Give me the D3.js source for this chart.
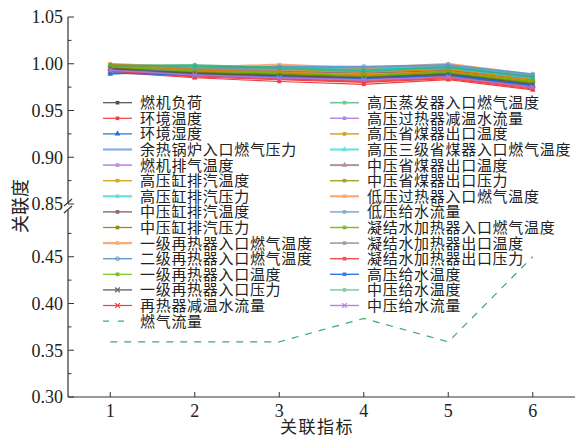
<!DOCTYPE html>
<html>
<head>
<meta charset="utf-8">
<script src="https://cdn.jsdelivr.net/npm/d3@7"></script>
<style>
  body { margin: 0; background: #fff; }
  svg { display: block; }
  text { font-family: "Liberation Serif", "Noto Sans CJK SC", serif; fill: #222; }
  .zh { font-family: "Noto Sans CJK SC", "Liberation Serif", serif; }
</style>
</head>
<body>
<svg id="chart"></svg>
<script>
//////////////////////////////////////////////////////////////
// data
var indicators = [1, 2, 3, 4, 5, 6];

var seriesNames = [
    "燃机负荷", "环境温度", "环境湿度", "余热锅炉入口燃气压力", "燃机排气温度",
    "高压缸排汽温度", "高压缸排汽压力", "中压缸排汽温度", "中压缸排汽压力",
    "一级再热器入口燃气温度", "二级再热器入口燃气温度", "一级再热器入口温度",
    "一级再热器入口压力", "再热器减温水流量", "燃气流量",
    "高压蒸发器入口燃气温度", "高压过热器减温水流量", "高压省煤器出口温度",
    "高压三级省煤器入口燃气温度", "中压省煤器出口温度", "中压省煤器出口压力",
    "低压过热器入口燃气温度", "低压给水流量", "凝结水加热器入口燃气温度",
    "凝结水加热器出口温度", "凝结水加热器出口压力", "高压给水温度",
    "中压给水温度", "中压给水流量"
];

var seriesValues = [
    [0.996, 0.991, 0.989, 0.986, 0.990, 0.979],
    [0.991, 0.985, 0.981, 0.978, 0.983, 0.972],
    [0.989, 0.993, 0.992, 0.990, 0.993, 0.983],
    [0.995, 0.994, 0.993, 0.991, 0.995, 0.985],
    [0.993, 0.988, 0.985, 0.983, 0.987, 0.976],
    [0.998, 0.993, 0.991, 0.988, 0.992, 0.981],
    [0.997, 0.997, 0.996, 0.994, 0.997, 0.987],
    [0.994, 0.989, 0.987, 0.984, 0.988, 0.977],
    [0.996, 0.992, 0.990, 0.987, 0.991, 0.980],
    [1.000, 0.996, 0.999, 0.995, 1.000, 0.988],
    [0.990, 0.995, 0.997, 0.997, 0.999, 0.989],
    [0.997, 0.990, 0.988, 0.985, 0.989, 0.978],
    [0.995, 0.990, 0.987, 0.985, 0.989, 0.978],
    [0.992, 0.986, 0.983, 0.980, 0.984, 0.973],
    [0.359, 0.359, 0.359, 0.384, 0.359, 0.450],
    [0.998, 0.999, 0.996, 0.993, 0.997, 0.986],
    [0.993, 0.987, 0.984, 0.982, 0.986, 0.975],
    [0.999, 0.995, 0.994, 0.991, 0.994, 0.983],
    [0.998, 0.997, 0.995, 0.993, 0.996, 0.985],
    [0.994, 0.989, 0.986, 0.984, 0.987, 0.976],
    [0.996, 0.991, 0.989, 0.986, 0.990, 0.979],
    [0.999, 0.994, 0.992, 0.989, 0.993, 0.982],
    [0.991, 0.994, 0.996, 0.996, 0.998, 0.988],
    [0.997, 0.992, 0.990, 0.987, 0.991, 0.981],
    [0.995, 0.990, 0.988, 0.985, 0.989, 0.978],
    [0.992, 0.987, 0.984, 0.981, 0.985, 0.974],
    [0.990, 0.988, 0.986, 0.984, 0.988, 0.977],
    [0.998, 0.998, 0.995, 0.992, 0.996, 0.986],
    [0.993, 0.988, 0.985, 0.983, 0.986, 0.975]
];

var topTicks = [0.85, 0.90, 0.95, 1.00, 1.05];
var bottomTicks = [0.30, 0.35, 0.40, 0.45];
//////////////////////////////////////////////////////////////

// style per series: colour, marker, width, opacity
var seriesStyles = [
    {c:"#515151", m:"square", w:1.2, o:1},
    {c:"#F14040", m:"square", w:1.2, o:1},
    {c:"#1A6FDF", m:"triangle", w:1.2, o:1},
    {c:"#6a9be0", m:"none", w:2.2, o:0.8},
    {c:"#B177DE", m:"square", w:1.6, o:0.85},
    {c:"#CC9900", m:"square", w:1.4, o:0.85},
    {c:"#00CBCC", m:"square", w:2.2, o:0.6},
    {c:"#7D4E4E", m:"square", w:1.4, o:0.85},
    {c:"#8E8E00", m:"square", w:1.2, o:1},
    {c:"#FB6501", m:"square", w:2.2, o:0.55},
    {c:"#6699CC", m:"circle", w:1.4, o:1},
    {c:"#6FB802", m:"square", w:1.2, o:0.9},
    {c:"#515151", m:"cross", w:1.4, o:0.85},
    {c:"#F14040", m:"cross", w:1.2, o:1},
    {c:"#37AD6B", m:"none", w:1.2, o:1, dash:"7,7"},
    {c:"#37AD6B", m:"square", w:1.6, o:0.7},
    {c:"#B177DE", m:"square", w:1.4, o:0.9},
    {c:"#CC9900", m:"square", w:1.4, o:0.9},
    {c:"#00CBCC", m:"triangle", w:2.0, o:0.6},
    {c:"#7D4E4E", m:"triangle", w:2.0, o:0.6},
    {c:"#8E8E00", m:"square", w:1.4, o:0.8},
    {c:"#FB6501", m:"square", w:2.2, o:0.55},
    {c:"#6699CC", m:"square", w:1.6, o:0.8},
    {c:"#6FB802", m:"square", w:1.4, o:0.9},
    {c:"#515151", m:"square", w:1.6, o:0.55},
    {c:"#F14040", m:"square", w:1.4, o:0.9},
    {c:"#1A6FDF", m:"square", w:1.4, o:0.9},
    {c:"#37AD6B", m:"square", w:1.6, o:0.6},
    {c:"#B177DE", m:"cross", w:1.4, o:0.9}
];

var screen = {width:575, height:440};

var svg = d3.select("#chart")
    .attr("width", screen.width)
    .attr("height", screen.height);

// scales: x shared, y broken into two pieces
var xScale = d3.scaleLinear().domain([0.5, 6.5]).range([68, 575]);
var yTop = d3.scaleLinear().domain([0.85, 1.05]).range([204, 17]);
var yBottom = d3.scaleLinear().domain([0.30, 0.50]).range([397, 210]);

var yFor = function(i) { return i === 14 ? yBottom : yTop; };

//////////////////////////////////////////////////////////////
// axes
var axes = svg.append("g").attr("stroke", "#333");

var drawYAxis = function(scale, ticks, minors, y0, y1)
{
    axes.append("line")
        .attr("x1", 68).attr("x2", 68)
        .attr("y1", y0).attr("y2", y1)
        .attr("stroke-width", 1.2);
    axes.selectAll(null).data(ticks).enter().append("line")
        .attr("x1", 68).attr("x2", 74)
        .attr("y1", function(d){ return scale(d); })
        .attr("y2", function(d){ return scale(d); });
    axes.selectAll(null).data(minors).enter().append("line")
        .attr("x1", 68).attr("x2", 71.5)
        .attr("y1", function(d){ return scale(d); })
        .attr("y2", function(d){ return scale(d); });
    svg.selectAll(null).data(ticks).enter().append("text")
        .attr("x", 63)
        .attr("y", function(d){ return scale(d); })
        .attr("dy", "0.35em")
        .attr("text-anchor", "end")
        .attr("font-size", 18)
        .text(function(d){ return d3.format(".2f")(d); });
};

drawYAxis(yTop, topTicks, [0.875, 0.925, 0.975, 1.025], 204, 17);
drawYAxis(yBottom, bottomTicks, [0.325, 0.375, 0.425, 0.475], 397, 210);

// break marks
axes.append("line").attr("x1", 64).attr("y1", 206).attr("x2", 72).attr("y2", 199).attr("stroke-width", 1.1);
axes.append("line").attr("x1", 64).attr("y1", 213).attr("x2", 72).attr("y2", 206).attr("stroke-width", 1.1);

// x axis
axes.append("line")
    .attr("x1", 68).attr("x2", 575)
    .attr("y1", 397).attr("y2", 397)
    .attr("stroke-width", 1.2);
axes.selectAll(null).data(indicators).enter().append("line")
    .attr("x1", function(d){ return xScale(d); })
    .attr("x2", function(d){ return xScale(d); })
    .attr("y1", 397).attr("y2", 392);
svg.selectAll(null).data(indicators).enter().append("text")
    .attr("x", function(d){ return xScale(d); })
    .attr("y", 417)
    .attr("text-anchor", "middle")
    .attr("font-size", 18)
    .text(function(d){ return d; });

// axis titles
svg.append("text")
    .classed("zh", true)
    .attr("x", 317).attr("y", 433)
    .attr("text-anchor", "middle")
    .attr("font-size", 17)
    .attr("letter-spacing", 1.5)
    .text("关联指标");
svg.append("g")
    .attr("transform", "translate(27,206)")
    .append("text")
    .classed("zh", true)
    .attr("text-anchor", "middle")
    .attr("transform", "rotate(-90)")
    .attr("font-size", 18)
    .text("关联度");

//////////////////////////////////////////////////////////////
// markers
var drawMarker = function(g, type, x, y, color)
{
    if(type === "square")
    {
        g.append("rect").attr("x", x-1.8).attr("y", y-1.8)
            .attr("width", 3.6).attr("height", 3.6).attr("fill", color);
    }
    else if(type === "circle")
    {
        g.append("circle").attr("cx", x).attr("cy", y).attr("r", 1.9)
            .attr("fill", "none").attr("stroke", color).attr("stroke-width", 1);
    }
    else if(type === "triangle")
    {
        g.append("path").attr("d", d3.symbol().type(d3.symbolTriangle).size(14)())
            .attr("transform", "translate("+x+","+y+")").attr("fill", color);
    }
    else if(type === "cross")
    {
        g.append("path").attr("d", d3.symbol().type(d3.symbolX).size(16)())
            .attr("transform", "translate("+x+","+y+")")
            .attr("stroke", color).attr("stroke-width", 1.3).attr("fill", "none");
    }
};

//////////////////////////////////////////////////////////////
// lines
var plot = svg.append("g").classed("graph", true);

seriesValues.forEach(function(vals, i)
{
    var st = seriesStyles[i];
    var yScale = yFor(i);
    var lineGenerator = d3.line()
        .x(function(v, k){ return xScale(indicators[k]); })
        .y(function(v){ return yScale(v); });
    var g = plot.append("g").attr("opacity", st.o);
    g.append("path")
        .datum(vals)
        .attr("d", lineGenerator)
        .attr("fill", "none")
        .attr("stroke", st.c)
        .attr("stroke-width", st.w)
        .attr("stroke-dasharray", st.dash || null);
    vals.forEach(function(v, k)
    {
        drawMarker(g, st.m, xScale(indicators[k]), yScale(v), st.c);
    });
});

//////////////////////////////////////////////////////////////
// legend, two columns
var legend = svg.append("g").classed("legend", true);
var leftCount = 15;

seriesNames.forEach(function(name, i)
{
    var st = seriesStyles[i];
    var col = i < leftCount ? 0 : 1;
    var row = i < leftCount ? i : i - leftCount;
    var x0 = col === 0 ? 103 : 330;
    var y0 = 102.7 + row * 15.6;
    var g = legend.append("g").attr("opacity", st.o);
    g.append("line")
        .attr("x1", x0).attr("x2", x0 + 29)
        .attr("y1", y0).attr("y2", y0)
        .attr("stroke", st.c)
        .attr("stroke-width", st.w)
        .attr("stroke-dasharray", st.dash ? "6,9" : null);
    drawMarker(g, st.m, x0 + 14.5, y0, st.c);
    legend.append("text")
        .classed("zh", true)
        .attr("x", x0 + 37)
        .attr("y", y0)
        .attr("dy", "0.36em")
        .attr("font-size", 15)
        .attr("letter-spacing", 0.7)
        .text(name);
});
</script>
</body>
</html>
